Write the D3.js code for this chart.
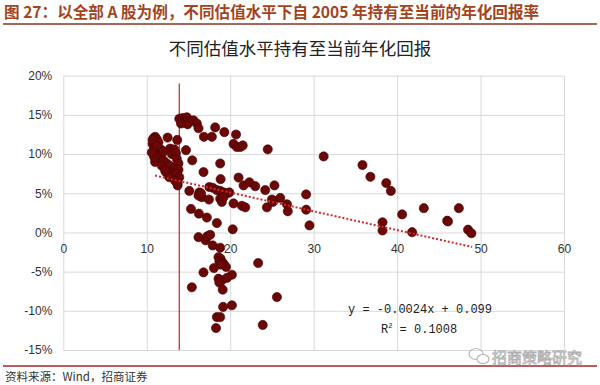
<!DOCTYPE html>
<html>
<head>
<meta charset="utf-8">
<script src="https://cdn.jsdelivr.net/npm/d3@7"></script>
<style>
    body { margin: 0; background: #fff; }
    svg { display: block; font-family: "Liberation Sans", Arial, sans-serif; }
    .grid line { stroke: #d9d9d9; stroke-width: 1; }
    .grid path { display: none; }
    .tick-labels path, .tick-labels line { display: none; }
    .tick-labels text { fill: #333; font-size: 12px; }
</style>
</head>
<body>
<div id="chart"></div>
<script>
// valuation (PE) and annualised return (%) for each starting date
let peValues = [
    // top cluster right of the line
    13.9, 14.3, 14.8, 15.0, 14.4, 14.9, 15.6, 16.0, 16.2, 14.1,
    18.2, 19.3, 20.7, 16.85, 17.8, 20.4, 20.8, 21.2, 21.5, 24.5, 14.7, 15.45, 18.8, 16.8, 18.85, 13.7,
    // around 5%
    21.0, 21.6, 22.3, 23.0, 24.2, 25.3, 15.1, 16.3, 16.6, 16.2, 16.5, 17.5, 17.9, 18.4, 18.8, 19.2, 19.6, 19.9,
    17.45, 18.8, 19.0, 19.2, 20.4, 21.4, 21.8, 24.4, 25.0, 25.1, 26.0, 26.8, 26.9, 15.3, 16.25, 17.2, 18.4, 20.3,
    // below zero
    16.2, 17.05, 17.25, 17.6, 17.9, 18.8, 18.6, 18.85, 18.7, 19.1, 19.25, 19.5, 18.85, 18.05, 16.8, 20.2,
    18.6, 19.0, 19.6, 18.7, 19.1, 15.4, 23.35, 25.6, 19.15, 20.2, 18.4, 18.8, 18.3, 23.9,
    // high valuation
    31.2, 35.85, 36.8, 38.7, 39.25, 29.1, 29.1, 29.5, 40.6, 43.2, 47.4, 46.0, 46.1, 38.25, 38.25, 41.8, 48.5, 48.9,
    // low valuation cluster
    11.0, 10.8, 11.2, 10.7, 11.4, 12.5, 13.65, 10.9, 11.4, 11.8, 11.1, 11.6, 12.8, 13.3, 13.0, 13.5, 11.0, 12.0,
    12.4, 11.8, 12.3, 12.8, 13.6, 13.8, 13.25, 13.8, 12.3, 12.8, 13.2, 12.7, 13.6, 13.9, 13.4, 13.7, 10.7, 10.9,
    12.2, 11.2, 10.6, 12.0
];
let returnValues = [
    14.5, 14.6, 14.7, 14.2, 14.0, 13.8, 14.3, 13.9, 13.3, 13.9,
    13.4, 12.8, 12.5, 12.2, 12.2, 11.3, 10.9, 10.9, 11.1, 10.6, 10.5, 9.2, 8.8, 7.7, 6.8, 6.0,
    7.0, 6.0, 6.4, 5.9, 5.4, 6.0, 5.3, 5.1, 4.5, 4.7, 5.0, 5.8, 5.7, 5.4, 5.3, 5.1, 5.0, 5.1,
    4.2, 4.3, 3.9, 4.5, 3.7, 3.4, 3.2, 3.2, 4.2, 3.9, 4.4, 3.6, 2.7, 3.0, 2.4, 1.9, 1.2, 0.4,
    -0.6, -1.0, -0.5, -0.3, -1.66, -1.95, -3.15, -3.35, -3.7, -3.87, -4.1, -4.4, -4.1, -4.55, -5.1, -5.4,
    -5.9, -6.1, -5.8, -6.4, -7.3, -7.0, -3.9, -8.25, -9.5, -9.3, -10.8, -10.8, -12.2, -11.8,
    9.7, 8.6, 7.1, 6.3, 5.3, 4.85, 2.9, 0.9, 2.3, 3.1, 3.1, 1.5, 1.4, 1.3, 0.25, 0.04, 0.35, -0.1,
    12.2, 12.0, 11.9, 11.3, 11.5, 12.1, 11.8, 10.7, 10.75, 10.5, 10.0, 9.8, 10.7, 10.6, 10.0, 10.1, 9.0, 9.2,
    8.8, 8.5, 8.2, 8.5, 9.4, 8.8, 8.1, 8.0, 7.7, 7.5, 7.3, 7.05, 7.5, 7.05, 6.6, 6.3, 11.8, 9.6,
    7.9, 11.0, 10.2, 10.3
];

let xTicks = [0, 10, 20, 30, 40, 50, 60];
let yTicks = [-15, -10, -5, 0, 5, 10, 15, 20];

// linear fit shown on the chart (return as a fraction)
let slope = -0.0024;
let intercept = 0.099;
let fitRange = [11, 49];
let fitLabel = "y = -0.0024x + 0.099";
let r2Label = "0.1008";

// current valuation marker
let currentPE = 13.9;
let currentTop = 19;

let headerText = "图 27：以全部 A 股为例，不同估值水平下自 2005 年持有至当前的年化回报率";
let titleText = "不同估值水平持有至当前年化回报";
let sourceText = "资料来源：Wind，招商证券";
let watermarkText = "招商策略研究";

let drawChart = function () {
    let width = 600;
    let height = 385;
    let left = 63.3, right = 564, top = 75.7, bottom = 350;

    let data = peValues.map(function (pe, i) {
        return { pe: pe, ret: returnValues[i] };
    });

    let xScale = d3.scaleLinear().domain([0, 60]).range([left, right]);
    let yScale = d3.scaleLinear().domain([-15, 20]).range([bottom, top]);

    let svg = d3.select("#chart")
        .append("svg")
        .attr("width", width)
        .attr("height", height);

    // header + rules
    svg.append("text")
        .attr("x", 4)
        .attr("y", 18)
        .style("font-family", "'Noto Sans CJK SC', sans-serif")
        .style("font-weight", "bold")
        .style("font-size", "15.6px")
        .style("fill", "#a2441e")
        .text(headerText);

    svg.append("line")
        .attr("x1", 3).attr("x2", 597)
        .attr("y1", 24).attr("y2", 24)
        .style("stroke", "#8c3322")
        .style("stroke-width", 1.5);

    svg.append("text")
        .attr("x", 300)
        .attr("y", 55)
        .attr("text-anchor", "middle")
        .style("font-family", "'Noto Sans CJK SC', sans-serif")
        .style("font-size", "17.5px")
        .style("fill", "#222")
        .text(titleText);

    // gridlines
    svg.append("g")
        .attr("class", "grid")
        .attr("transform", "translate(0," + bottom + ")")
        .call(d3.axisBottom(xScale).tickValues(xTicks).tickSize(-(bottom - top)).tickFormat(""));

    svg.append("g")
        .attr("class", "grid")
        .attr("transform", "translate(" + left + ",0)")
        .call(d3.axisLeft(yScale).tickValues(yTicks).tickSize(-(right - left)).tickFormat(""));

    // y labels
    svg.append("g")
        .attr("class", "tick-labels")
        .attr("transform", "translate(" + (left - 11) + ",0)")
        .call(d3.axisLeft(yScale).tickValues(yTicks).tickSize(0).tickPadding(0)
            .tickFormat(function (d) { return d + "%"; }));

    // x labels sit on the zero line
    svg.append("g")
        .attr("class", "tick-labels")
        .attr("transform", "translate(0," + yScale(0) + ")")
        .call(d3.axisBottom(xScale).tickValues(xTicks).tickSize(0).tickPadding(12));

    // current valuation line
    svg.append("line")
        .attr("x1", xScale(currentPE)).attr("x2", xScale(currentPE))
        .attr("y1", yScale(currentTop)).attr("y2", yScale(-15))
        .style("stroke", "#cc2028")
        .style("stroke-width", 1.2);

    // points
    svg.selectAll("circle.pt")
        .data(data)
        .enter()
        .append("circle")
        .attr("class", "pt")
        .attr("cx", function (d) { return xScale(d.pe); })
        .attr("cy", function (d) { return yScale(d.ret); })
        .attr("r", 4.6)
        .style("fill", "#6a0808")
        .style("stroke", "#4a0000")
        .style("stroke-width", 0.6);

    // dotted trend line
    let fit = d3.line()
        .x(function (d) { return xScale(d); })
        .y(function (d) { return yScale((slope * d + intercept) * 100); });

    svg.append("path")
        .datum(fitRange)
        .attr("d", fit)
        .style("fill", "none")
        .style("stroke", "#d02a2a")
        .style("stroke-width", 2)
        .style("stroke-dasharray", "2,2");

    // equation
    svg.append("text")
        .attr("x", 348)
        .attr("y", 313)
        .style("font-family", "'Liberation Mono', monospace")
        .style("font-size", "12px")
        .style("fill", "#222")
        .text(fitLabel);

    let r2 = svg.append("text")
        .attr("x", 381)
        .attr("y", 333)
        .style("font-family", "'Liberation Mono', monospace")
        .style("font-size", "12px")
        .style("fill", "#222");
    r2.append("tspan").text("R");
    r2.append("tspan").attr("dy", -5).style("font-size", "7px").text("2");
    r2.append("tspan").attr("dy", 5).text(" = " + r2Label);

    // footer
    svg.append("line")
        .attr("x1", 3).attr("x2", 597)
        .attr("y1", 366).attr("y2", 366)
        .style("stroke", "#a3262a")
        .style("stroke-width", 1.5);

    svg.append("text")
        .attr("x", 5)
        .attr("y", 381)
        .style("font-family", "'Noto Sans CJK SC', sans-serif")
        .style("font-size", "11.5px")
        .style("fill", "#333")
        .text(sourceText);

    // watermark
    let wm = svg.append("g").attr("transform", "translate(480,356)");
    wm.append("ellipse").attr("cx", -4).attr("cy", -2).attr("rx", 7).attr("ry", 5.5)
        .style("fill", "none").style("stroke", "#b5b5b5").style("stroke-width", 1.2);
    wm.append("ellipse").attr("cx", 3).attr("cy", 3).attr("rx", 6).attr("ry", 4.5)
        .style("fill", "#fff").style("stroke", "#b5b5b5").style("stroke-width", 1.2);
    svg.append("text")
        .attr("x", 492)
        .attr("y", 363)
        .style("font-family", "'Noto Sans CJK SC', sans-serif")
        .style("font-size", "15px")
        .style("fill", "#fff")
        .style("stroke", "#b0b0b0")
        .style("stroke-width", 0.8)
        .text(watermarkText);
}

window.onload = function () {
    drawChart();
}
</script>
</body>
</html>
